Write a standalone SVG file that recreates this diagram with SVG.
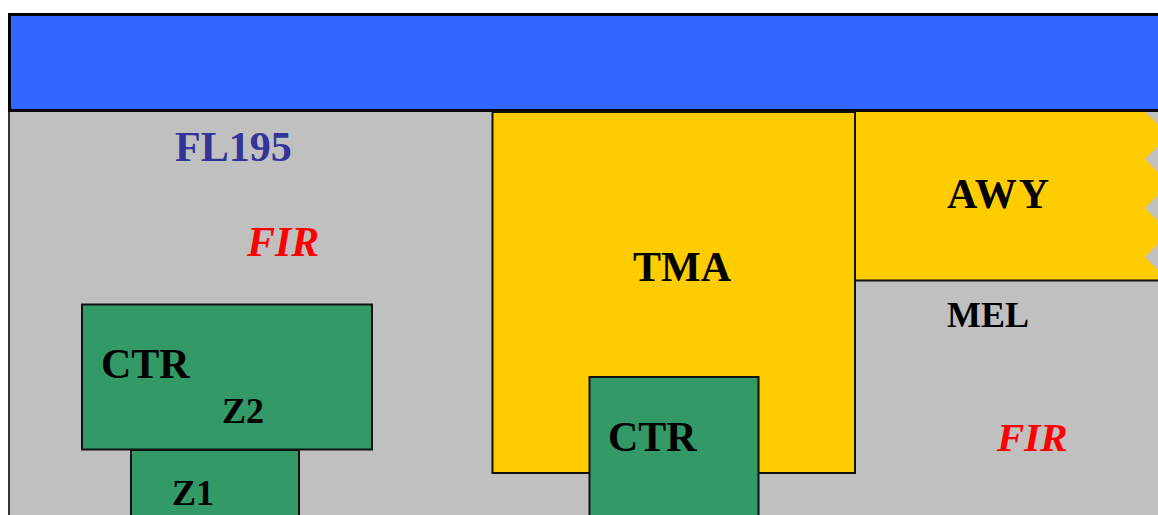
<svg xmlns="http://www.w3.org/2000/svg" width="1158" height="515" viewBox="0 0 1158 515">
<style>
.t{font-family:"Liberation Serif","Times New Roman",serif;font-weight:bold}
.blk{fill:#000}
.fir{fill:#FF0000;font-style:italic}
.green{fill:#339966;stroke:#111;stroke-width:2}
.yel{fill:#FFCC00;stroke:#111;stroke-width:2}
</style>
<rect width="1158" height="515" fill="#fff"/>
<g id="fir-area">
<rect x="9" y="111" width="1160" height="420" fill="#C0C0C0" stroke="#333" stroke-width="2"/>
<text class="t" x="175" y="161" font-size="42" fill="#333399">FL195</text>
<text class="t fir" x="247" y="256" font-size="42">FIR</text>
<text class="t fir" x="997" y="451" font-size="41">FIR</text>
<text class="t blk" x="947" y="327" font-size="36">MEL</text>
</g>
<g id="top-bar">
<rect x="9.5" y="14.5" width="1160" height="96" fill="#3366FF" stroke="#000" stroke-width="3"/>
</g>
<g id="tma">
<rect class="yel" x="492.5" y="112" width="362.5" height="361"/>
<text class="t blk" x="633" y="281" font-size="42">TMA</text>
</g>
<g id="awy">
<polygon fill="#FFCC00" points="855,112 1145,112 1169.5,134.5 1145,159 1169.5,183.5 1145,208 1169.5,232.5 1145,257 1168,280 855,280"/>
<line x1="855" y1="112" x2="855" y2="280" stroke="#111" stroke-width="2"/>
<line x1="855" y1="280.5" x2="1158" y2="280.5" stroke="#111" stroke-width="2"/>
<text class="t blk" x="947" y="208" font-size="42" letter-spacing="2">AWY</text>
</g>
<g id="z1">
<rect class="green" x="131" y="450" width="168" height="80"/>
<text class="t blk" x="172" y="505" font-size="36">Z1</text>
</g>
<g id="ctr-left">
<rect class="green" x="82" y="304.5" width="290" height="145"/>
<text class="t blk" x="101" y="378" font-size="42">CTR</text>
<text class="t blk" x="222" y="423" font-size="36">Z2</text>
</g>
<g id="ctr-right">
<rect class="green" x="589.5" y="377" width="169" height="160"/>
<text class="t blk" x="608" y="451" font-size="42">CTR</text>
</g>
<g id="connectors"/>
</svg>
